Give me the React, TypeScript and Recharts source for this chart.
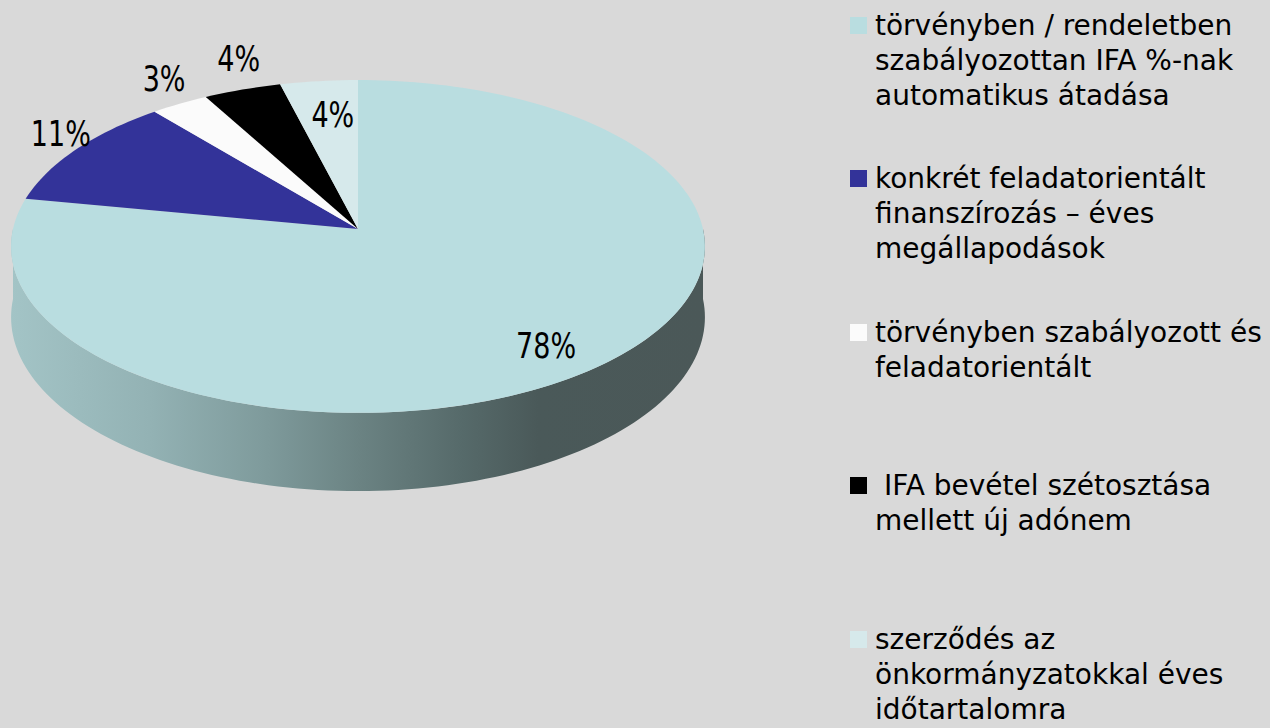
import { PieChart, Pie, Cell, Legend } from "recharts";

// categories (legend order = slice order, clockwise from 12 o'clock)
const categories = [
  "törvényben / rendeletben szabályozottan IFA %-nak automatikus átadása",
  "konkrét feladatorientált finanszírozás – éves megállapodások",
  "törvényben szabályozott és feladatorientált",
  " IFA bevétel szétosztása mellett új adónem",
  "szerződés az önkormányzatokkal éves időtartalomra",
];
const shares = [78, 11, 3, 4, 4];
const colors = ["#b9dde0", "#333399", "#fbfbfb", "#000000", "#d6e9eb"];

const data = categories.map((name, i) => ({ name, value: shares[i] }));

// fake 3D look: tilted disc with a bit of perspective
const TILT = 0.477;
const PERSP = 0.105;
const DEPTH = 70;
// label placement (radius factor and nudge per slice, like Excel's best fit)
const labelRadius = [0.8, 1.08, 1.12, 1.17, 0.7];
const labelNudge = [
  [0, 8],
  [6, -10],
  [4, -12],
  [14, -10],
  [3, -8],
];

const FONT = "'DejaVu Sans', sans-serif";

const project = (cx: number, cy: number, r: number, deg: number, frac = 1) => {
  const a = (deg * Math.PI) / 180;
  const u = Math.cos(a);
  const v = Math.sin(a);
  const f = 1 / (1 + PERSP * v * frac);
  return { x: cx + r * frac * u * f, y: cy - r * TILT * frac * v * f, f };
};

const arcPoints = (cx: number, cy: number, r: number, a1: number, a2: number, drop = 0) => {
  const steps = Math.max(2, Math.ceil(Math.abs(a2 - a1) / 1.5));
  const pts: string[] = [];
  for (let i = 0; i <= steps; i++) {
    const p = project(cx, cy, r, a1 + ((a2 - a1) * i) / steps);
    pts.push(`${p.x.toFixed(2)},${(p.y + drop * p.f).toFixed(2)}`);
  }
  return pts;
};

const Slab = (props: any) => {
  const { cx, cy, outerRadius, startAngle, endAngle, fill } = props;
  const top = `M${cx},${cy}L${arcPoints(cx, cy, outerRadius, startAngle, endAngle).join("L")}Z`;

  // front wall: the part of the rim lying in the lower half
  const lo = Math.min(startAngle, endAngle);
  const hi = Math.max(startAngle, endAngle);
  const walls: string[] = [];
  [-360, 0, 360].forEach((base) => {
    const a1 = Math.max(lo, base - 180);
    const a2 = Math.min(hi, base);
    if (a2 > a1) {
      const upper = arcPoints(cx, cy, outerRadius, a1, a2);
      const lower = arcPoints(cx, cy, outerRadius, a2, a1, DEPTH);
      walls.push(`M${upper.join("L")}L${lower.join("L")}Z`);
    }
  });

  return (
    <g>
      {walls.map((d, i) => (
        <path key={i} d={d} fill={fill === colors[0] ? "url(#sideShade)" : fill} stroke="none" />
      ))}
      <path d={top} fill={fill} stroke="none" />
    </g>
  );
};

const renderLabel = (props: any) => {
  const { cx, cy, outerRadius, midAngle, index, value } = props;
  const rf = labelRadius[index] ?? 1.1;
  const [dx, dy] = labelNudge[index] ?? [0, 0];
  const p = project(cx, cy, outerRadius, midAngle, rf);
  return (
    <text
      transform={`translate(${p.x + dx},${p.y + dy}) scale(0.75,1)`}
      textAnchor="middle"
      dominantBaseline="central"
      fontFamily={FONT}
      fontSize={36}
      fill="#000"
    >
      {value}%
    </text>
  );
};

const renderLegend = (props: any) => {
  const payload = [...(props.payload || [])].sort(
    (a: any, b: any) => categories.indexOf(a.value) - categories.indexOf(b.value)
  );
  return (
    <div style={{ position: "relative", width: 420, height: 728, fontFamily: FONT }}>
      {payload.map((entry: any, i: number) => (
        <div
          key={i}
          style={{
            position: "absolute",
            left: 0,
            top: 7.5 + 153.5 * i,
            display: "flex",
            alignItems: "flex-start",
          }}
        >
          <span
            style={{
              display: "inline-block",
              width: 17,
              height: 17,
              marginTop: 9,
              marginRight: 8,
              background: entry.color ?? colors[i],
              flex: "none",
            }}
          />
          <span
            style={{
              width: 396,
              fontSize: 28,
              lineHeight: "35px",
              color: "#000",
              whiteSpace: "pre-wrap",
            }}
          >
            {entry.value}
          </span>
        </div>
      ))}
    </div>
  );
};

export default function App() {
  return (
    <div style={{ position: "absolute", left: 0, top: 0, width: 1270, height: 728, background: "#d9d9d9", overflow: "hidden" }}>
      <PieChart width={1270} height={728} margin={{ top: 0, right: 0, bottom: 0, left: 0 }}>
        <defs>
          <linearGradient id="sideShade" gradientUnits="userSpaceOnUse" x1={11} y1={0} x2={705} y2={0}>
            <stop offset="0" stopColor="#a3c4c6" />
            <stop offset="0.2" stopColor="#93b2b4" />
            <stop offset="0.37" stopColor="#7e9a9b" />
            <stop offset="0.5" stopColor="#6b8383" />
            <stop offset="0.65" stopColor="#566a6a" />
            <stop offset="0.76" stopColor="#4a5959" />
            <stop offset="1" stopColor="#4b5858" />
          </linearGradient>
        </defs>
        <Pie
          data={data}
          dataKey="value"
          nameKey="name"
          cx={358}
          cy={229}
          outerRadius={345}
          startAngle={90}
          endAngle={-270}
          stroke="none"
          shape={Slab}
          activeShape={Slab}
          inactiveShape={Slab}
          label={renderLabel}
          labelLine={false}
          isAnimationActive={false}
        >
          {data.map((d, i) => (
            <Cell key={d.name} fill={colors[i]} />
          ))}
        </Pie>
        <Legend
          layout="vertical"
          verticalAlign="top"
          align="right"
          itemSorter={null as any}
          content={renderLegend}
          wrapperStyle={{ left: 850, top: 0, width: 420, height: 728 }}
        />
      </PieChart>
    </div>
  );
}
